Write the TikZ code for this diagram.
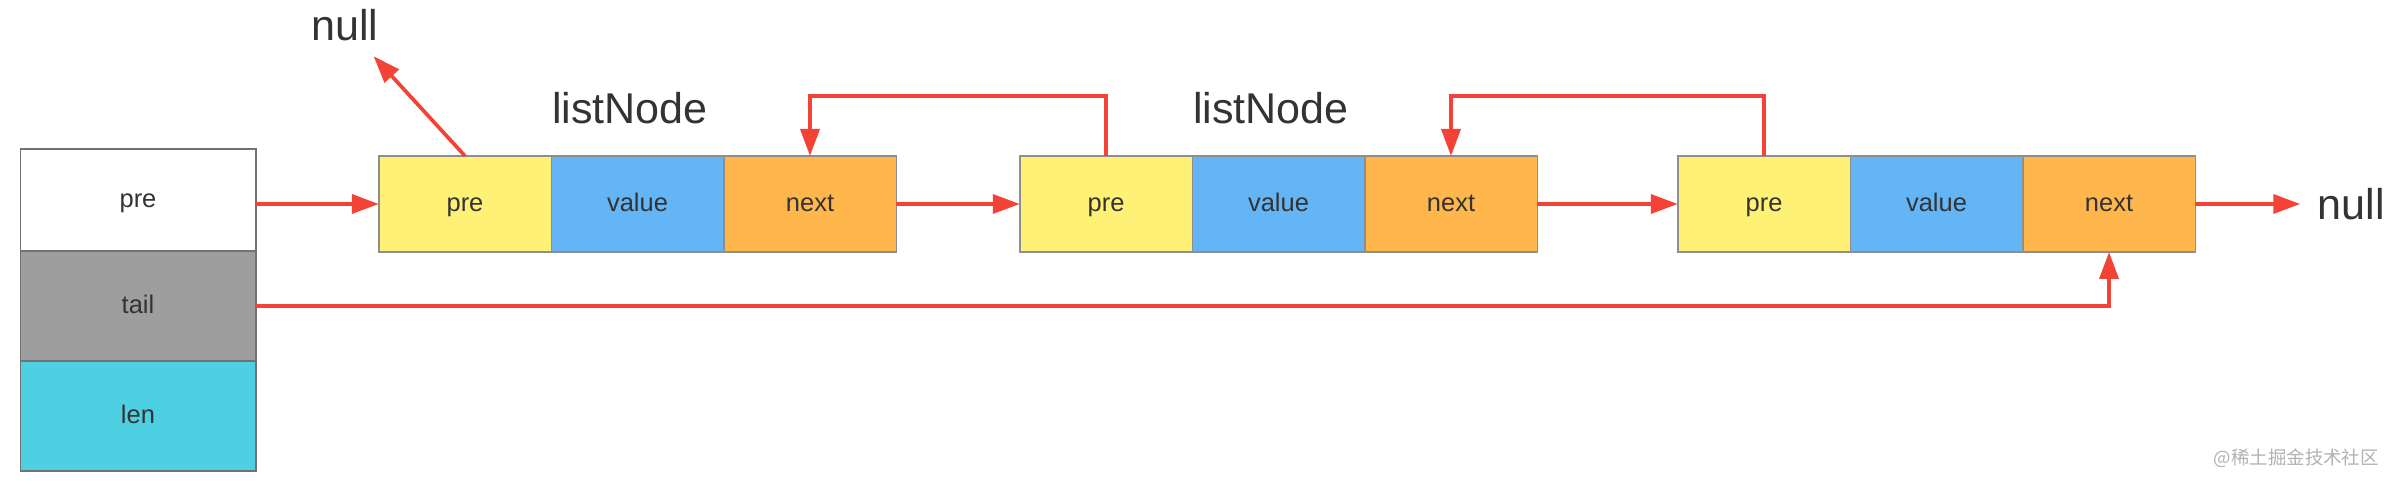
\documentclass[tikz,border=0pt]{standalone}
\usepackage{fontspec}
\setmainfont{Liberation Sans}
\newfontfamily\cjkfont{Noto Sans CJK SC}
\usetikzlibrary{positioning,arrows.meta}
\definecolor{vang}{HTML}{FFF176}
\definecolor{xanh}{HTML}{64B5F6}
\definecolor{cam}{HTML}{FFB74D}
\definecolor{xam}{HTML}{9E9E9E}
\definecolor{lam}{HTML}{4DD0E1}
\definecolor{vien}{HTML}{8E8E8E}
\definecolor{chu}{HTML}{333333}
\definecolor{do}{HTML}{F44336}
\begin{document}
\begin{tikzpicture}[>={Triangle[length=0.54cm,width=0.38cm]},
    field/.style={draw=vien, line width=0.85pt, minimum width=3.45cm, minimum height=1.92cm,
        inner sep=0pt, outer sep=0pt, text=chu, text height=1.0em, text depth=0.2em,
        font=\fontsize{14.5}{16}\selectfont},
    hbox/.style={field, draw=vien!80!black, minimum width=4.71cm},
    big/.style={text=chu, font=\fontsize{24.5}{28}\selectfont},
    link/.style={->, draw=do, line width=2.1pt}]
    \useasboundingbox (0,0) rectangle (47.92,-9.68);

    % Phần đầu danh sách
    \node[hbox, fill=white, minimum height=2.04cm] (hpre) at (2.76,-4.0) {pre};
    \node[hbox, fill=xam, minimum height=2.2cm, below=0pt of hpre] (htail) {tail};
    \node[hbox, fill=lam, minimum height=2.2cm, below=0pt of htail] (hlen) {len};

    % Các nút listNode
    \foreach \i/\x in {1/9.30, 2/22.12, 3/35.28} {
        \node[field, fill=vang] (pre\i) at (\x,-4.08) {pre};
        \node[field, fill=xanh, right=0pt of pre\i] (val\i) {value};
        \node[field, fill=cam, right=0pt of val\i] (nxt\i) {next};
    }
    \node[big, above=0.52cm of val1, xshift=-0.15cm] (lbl1) {listNode};
    \node[big, above=0.52cm of val2, xshift=-0.15cm] (lbl2) {listNode};
    \node[big] (nulla) at (6.9,-0.5) {null};
    \node[big, inner xsep=0.34cm, right=2.1cm of nxt3] (nullb) {null};

    % Mũi tên
    \draw[link] (hpre.east |- pre1.west) -- (pre1.west);
    \draw[link] (nxt1.east) -- (pre2.west);
    \draw[link] (nxt2.east) -- (pre3.west);
    \draw[link] (nxt3.east) -- (nullb);
    \draw[link, shorten >=0.25cm] (pre1.north) -- (nulla);
    \draw[link] (pre2.north) -- ++(0,1.2) -| (nxt1.north);
    \draw[link] (pre3.north) -- ++(0,1.2) -| (nxt2.north);
    \draw[link] (htail.east) -| (nxt3.south);

    \node[anchor=east, text=xam!80, font=\cjkfont\fontsize{10.5}{12}\selectfont] (wm) at (47.7,-9.17) {@稀土掘金技术社区};
\end{tikzpicture}
\end{document}
